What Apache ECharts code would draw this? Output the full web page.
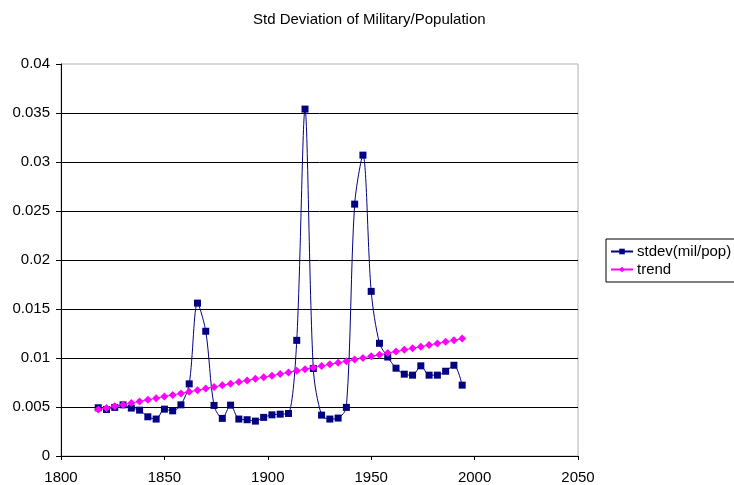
<!DOCTYPE html>
<html>
<head>
<meta charset="utf-8">
<script src="https://cdn.jsdelivr.net/npm/echarts@6/dist/echarts.min.js"></script>
<style>
  html, body { margin: 0; padding: 0; background: #fff; }
  #main { width: 734px; height: 485px; }
</style>
</head>
<body>
<div id="main"></div>
<script>
// years of each observation
var years = [1818, 1822, 1826, 1830, 1834, 1838, 1842, 1846, 1850, 1854,
             1858, 1862, 1866, 1870, 1874, 1878, 1882, 1886, 1890, 1894,
             1898, 1902, 1906, 1910, 1914, 1918, 1922, 1926, 1930, 1934,
             1938, 1942, 1946, 1950, 1954, 1958, 1962, 1966, 1970, 1974,
             1978, 1982, 1986, 1990, 1994];

// stdev(mil/pop)
var stdev = [0.00492, 0.00475, 0.00496, 0.00522, 0.00489, 0.00468, 0.00400, 0.00377, 0.00478, 0.00461,
             0.00522, 0.00736, 0.01560, 0.01273, 0.00516, 0.00384, 0.00519, 0.00377, 0.00370, 0.00356,
             0.00394, 0.00420, 0.00427, 0.00434, 0.01180, 0.03540, 0.00893, 0.00417, 0.00377, 0.00387,
             0.00496, 0.02570, 0.03070, 0.01680, 0.01150, 0.01010, 0.00896, 0.00835, 0.00825, 0.00920,
             0.00825, 0.00825, 0.00865, 0.00926, 0.00723];

// trend
var trend = [0.00475, 0.00491, 0.00508, 0.00524, 0.00541, 0.00557, 0.00574, 0.00590, 0.00606, 0.00623,
             0.00639, 0.00656, 0.00672, 0.00689, 0.00705, 0.00721, 0.00738, 0.00754, 0.00771, 0.00787,
             0.00804, 0.00820, 0.00836, 0.00853, 0.00869, 0.00886, 0.00902, 0.00919, 0.00935, 0.00951,
             0.00968, 0.00984, 0.01001, 0.01017, 0.01034, 0.01050, 0.01066, 0.01083, 0.01099, 0.01116,
             0.01132, 0.01149, 0.01165, 0.01181, 0.01198];

function pairs(vals) {
    var out = [];
    for (var i = 0; i < years.length; i++) out.push([years[i], vals[i]]);
    return out;
}

var font = 'Liberation Sans, Arial, sans-serif';
var chart = echarts.init(document.getElementById('main'));

var option = {
    animation: false,
    title: {
        text: 'Std Deviation of Military/Population',
        left: 253,
        top: 12,
        padding: 0,
        textStyle: { fontFamily: font, fontSize: 15, fontWeight: 'normal', color: '#000' }
    },
    legend: {
        orient: 'vertical',
        left: 606,
        top: 239,
        width: 123,
        padding: [4, 8, 4, 4],
        itemGap: 1,
        itemWidth: 22,
        itemHeight: 7,
        borderColor: '#000',
        borderWidth: 1,
        textStyle: { fontFamily: font, fontSize: 15, color: '#000', lineHeight: 17, padding: [0, 0, 0, -1] },
        data: ['stdev(mil/pop)', 'trend']
    },
    grid: {
        left: 61, right: 156, top: 64, bottom: 29,
        show: true,
        borderColor: '#b0b0b0',
        borderWidth: 1
    },
    xAxis: {
        type: 'value',
        min: 1800, max: 2050, interval: 50,
        axisLine: { lineStyle: { color: '#000', width: 1 } },
        axisTick: { show: true, length: 4, lineStyle: { color: '#000' } },
        axisLabel: {
            margin: 14, color: '#000', fontFamily: font, fontSize: 15,
            formatter: function (v) { return String(v); }
        },
        splitLine: { show: false }
    },
    yAxis: {
        type: 'value',
        min: 0, max: 0.04, interval: 0.005,
        axisLine: { show: true, lineStyle: { color: '#000', width: 1 } },
        axisTick: { show: true, length: 5, lineStyle: { color: '#000' } },
        axisLabel: { margin: 11, color: '#000', fontFamily: font, fontSize: 15 },
        splitLine: { show: true, showMaxLine: false, lineStyle: { color: '#000', width: 1 } }
    },
    series: [
        {
            name: 'stdev(mil/pop)',
            type: 'line',
            data: pairs(stdev),
            smooth: 0.3,
            symbol: 'rect',
            symbolSize: 7,
            itemStyle: { color: '#000080' },
            lineStyle: { color: '#000080', width: 1 }
        },
        {
            name: 'trend',
            type: 'line',
            data: pairs(trend),
            symbol: 'diamond',
            symbolSize: 8,
            itemStyle: { color: '#ff00ff' },
            lineStyle: { color: '#ff00ff', width: 1 }
        }
    ]
};

chart.setOption(option);
</script>
</body>
</html>
